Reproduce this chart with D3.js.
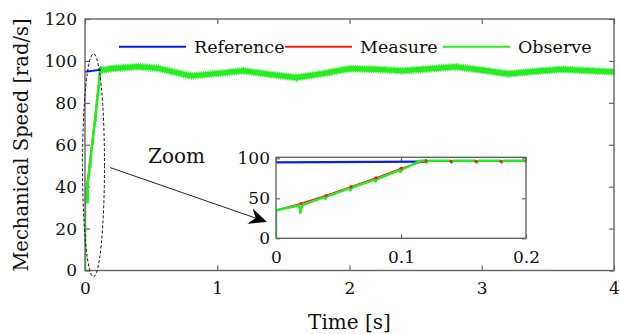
<!DOCTYPE html>
<html>
<head>
<meta charset="utf-8">
<script src="https://cdn.jsdelivr.net/npm/d3@7"></script>
<style>
  html, body { margin: 0; padding: 0; background: #fff; }
  svg { display: block; }
  text { font-family: "DejaVu Serif", serif; fill: #111; }
</style>
</head>
<body>
<svg id="chart" width="620" height="334"></svg>
<script>
// Reference speed (only the visible part before the observer covers it)
const refT = [0, 0.12];
const refV = [94.8, 95.8];

// Measured speed samples (every 0.02 s)
const measureT = [0, 0.02, 0.04, 0.06, 0.08, 0.10, 0.12, 0.14, 0.16, 0.18, 0.20];
const measureV = [35, 43.5, 53.5, 64.5, 75.5, 87.5, 97, 96.2, 96.2, 96.2, 96.2];

// Observed speed, start-up ramp with the small notches at each sample
const rampT = [0, 0, 0.0185, 0.0195, 0.021, 0.0385, 0.0395, 0.041, 0.0585, 0.0595, 0.061,
               0.0785, 0.0795, 0.081, 0.0985, 0.0995, 0.101, 0.116, 0.1195, 0.1205, 0.122,
               0.1395, 0.1405, 0.142, 0.1595, 0.1605, 0.162, 0.1795, 0.1805, 0.182, 0.2];
const rampV = [0, 35, 41, 32, 41.5, 51.5, 49, 52.5, 62.5, 60, 63.5,
               73, 71, 74, 85, 83, 86, 97, 97, 94.5, 97,
               97, 94.5, 97, 97, 94.5, 97, 97, 94.5, 97, 97];

// Observed speed, steady part (centre of the ripple band)
const steadyT = [0.116, 0.2, 0.4, 0.55, 0.8, 1.0, 1.2, 1.4, 1.6, 1.8, 2.0, 2.2, 2.4, 2.6,
                 2.8, 3.0, 3.2, 3.4, 3.6, 3.8, 4.0];
const steadyV = [95.5, 96.3, 97.3, 96.5, 92.8, 94.0, 95.3, 93.5, 92.0, 94.0, 96.3, 96.0, 95.3, 96.2,
                 97.2, 95.6, 93.8, 95.0, 96.0, 95.4, 94.8];

const mainXTicks = [0, 1, 2, 3, 4];
const mainYTicks = [0, 20, 40, 60, 80, 100, 120];
const insetXTicks = [0, 0.1, 0.2];
const insetYTicks = [0, 50, 100];

const legendNames = ['Reference', 'Measure', 'Observe'];
const colors = { ref: '#0a1cf0', meas: '#ff1a1a', obs: '#22ee22' };
const axisColor = '#666';

const svg = d3.select('#chart');

const x = d3.scaleLinear().domain([0, 4]).range([85, 614]);
const y = d3.scaleLinear().domain([0, 120]).range([270.5, 19]);
const ix = d3.scaleLinear().domain([0, 0.2]).range([276, 526]);
const iy = d3.scaleLinear().domain([0, 101.25]).range([238.3, 157.3]);

const zip = (a, b) => a.map((t, i) => [t, b[i]]);
const fmt = d3.format('~g');

function drawAxes(g, sx, sy, xt, yt, tick, padX, padY) {
    const [x0, x1] = sx.range();
    const [y0, y1] = sy.range();
    g.append('rect')
        .attr('x', x0).attr('y', y1)
        .attr('width', x1 - x0).attr('height', y0 - y1)
        .attr('fill', '#fff');

    const ax = [
        g.append('g').attr('transform', `translate(0,${y0})`)
            .call(d3.axisBottom(sx).tickValues(xt).tickFormat(fmt).tickSizeInner(-tick).tickSizeOuter(0).tickPadding(padX)),
        g.append('g').attr('transform', `translate(0,${y1})`)
            .call(d3.axisTop(sx).tickValues(xt).tickSizeInner(-tick).tickSizeOuter(0).tickFormat('')),
        g.append('g').attr('transform', `translate(${x0},0)`)
            .call(d3.axisLeft(sy).tickValues(yt).tickFormat(fmt).tickSizeInner(-tick).tickSizeOuter(0).tickPadding(padY)),
        g.append('g').attr('transform', `translate(${x1},0)`)
            .call(d3.axisRight(sy).tickValues(yt).tickSizeInner(-tick).tickSizeOuter(0).tickFormat(''))
    ];
    ax.forEach(a => {
        a.select('.domain').remove();
        a.selectAll('line').attr('stroke', axisColor).attr('stroke-width', 1.2);
        a.selectAll('text').attr('font-size', '17px').attr('font-family', '"DejaVu Serif", serif').attr('fill', '#111');
    });
}

function drawFrame(g, sx, sy) {
    const [x0, x1] = sx.range();
    const [y0, y1] = sy.range();
    g.append('rect')
        .attr('x', x0).attr('y', y1)
        .attr('width', x1 - x0).attr('height', y0 - y1)
        .attr('fill', 'none')
        .attr('stroke', axisColor)
        .attr('stroke-width', 1.4);
}

// ---------- main axes ----------
const main = svg.append('g');
drawAxes(main, x, y, mainXTicks, mainYTicks, 5, 11, 8);

main.append('clipPath').attr('id', 'clipMain')
    .append('rect').attr('x', 85).attr('y', 19).attr('width', 529).attr('height', 251.5);

const mainLines = main.append('g').attr('clip-path', 'url(#clipMain)');
const lineMain = d3.line().x(d => x(d[0])).y(d => y(d[1]));

mainLines.append('path')
    .attr('d', lineMain(zip(measureT, measureV)))
    .attr('fill', 'none').attr('stroke', colors.meas).attr('stroke-width', 1.5);

mainLines.append('path')
    .attr('d', lineMain(zip(rampT, rampV).filter(d => d[0] <= 0.116)))
    .attr('fill', 'none').attr('stroke', colors.obs).attr('stroke-width', 2.6);

// ripple band
mainLines.append('path')
    .attr('d', lineMain(zip(steadyT, steadyV)))
    .attr('fill', 'none').attr('stroke', colors.obs)
    .attr('stroke-width', 7.5).attr('stroke-dasharray', '0.8,1')
    .attr('stroke-linejoin', 'round');
mainLines.append('path')
    .attr('d', lineMain(zip(steadyT, steadyV)))
    .attr('fill', 'none').attr('stroke', colors.obs)
    .attr('stroke-width', 5.2).attr('stroke-linejoin', 'round');

mainLines.append('path')
    .attr('d', lineMain(zip(refT, refV)))
    .attr('fill', 'none').attr('stroke', colors.ref).attr('stroke-width', 2);

drawFrame(main, x, y);

// axis titles
main.append('text')
    .attr('x', 349.5).attr('y', 328.5)
    .attr('text-anchor', 'middle')
    .attr('font-size', '20px')
    .text('Time [s]');

main.append('text')
    .attr('transform', 'translate(28,145) rotate(-90)')
    .attr('text-anchor', 'middle')
    .attr('font-size', '19.5px')
    .text('Mechanical Speed [rad/s]');

// ---------- legend ----------
const legendColors = [colors.ref, colors.meas, colors.obs];
const legendLineX = [119, 285, 443];
const legend = main.append('g');
legendNames.forEach((name, i) => {
    legend.append('line')
        .attr('x1', legendLineX[i]).attr('x2', legendLineX[i] + 67)
        .attr('y1', 46.7).attr('y2', 46.7)
        .attr('stroke', legendColors[i]).attr('stroke-width', 2);
    legend.append('text')
        .attr('x', legendLineX[i] + 75).attr('y', 53)
        .attr('font-size', '17.5px')
        .text(name);
});

// ---------- ellipse + arrow ----------
svg.append('ellipse')
    .attr('cx', 93.5).attr('cy', 165.3)
    .attr('rx', 11).attr('ry', 111.5)
    .attr('fill', 'none').attr('stroke', '#111')
    .attr('stroke-width', 1).attr('stroke-dasharray', '3,2');

const a0 = [110, 167.5], tip = [267, 222];
const dx = tip[0] - a0[0], dy = tip[1] - a0[1];
const len = Math.hypot(dx, dy);
const u = [dx / len, dy / len], n = [-u[1], u[0]];
const hl = 18, hw = 8, notch = 12;
svg.append('line')
    .attr('x1', a0[0]).attr('y1', a0[1])
    .attr('x2', tip[0] - notch * u[0]).attr('y2', tip[1] - notch * u[1])
    .attr('stroke', '#222').attr('stroke-width', 1);
svg.append('path')
    .attr('d', d3.line()([
        tip,
        [tip[0] - hl * u[0] + hw * n[0], tip[1] - hl * u[1] + hw * n[1]],
        [tip[0] - notch * u[0], tip[1] - notch * u[1]],
        [tip[0] - hl * u[0] - hw * n[0], tip[1] - hl * u[1] - hw * n[1]]
    ]) + 'Z')
    .attr('fill', '#000');

svg.append('text')
    .attr('x', 148).attr('y', 163)
    .attr('font-size', '20px')
    .text('Zoom');

// ---------- inset ----------
const inset = svg.append('g');
drawAxes(inset, ix, iy, insetXTicks, insetYTicks, 4, 12.5, 6);

inset.append('clipPath').attr('id', 'clipInset')
    .append('rect').attr('x', 276).attr('y', 157.3).attr('width', 250).attr('height', 81);

const insetLines = inset.append('g').attr('clip-path', 'url(#clipInset)');
const lineInset = d3.line().x(d => ix(d[0])).y(d => iy(d[1]));

insetLines.append('path')
    .attr('d', lineInset(zip(refT, refV)))
    .attr('fill', 'none').attr('stroke', colors.ref).attr('stroke-width', 2.2);

insetLines.append('path')
    .attr('d', lineInset(zip(measureT, measureV)))
    .attr('fill', 'none').attr('stroke', colors.meas).attr('stroke-width', 1.4);

insetLines.append('path')
    .attr('d', lineInset(zip(rampT, rampV)))
    .attr('fill', 'none').attr('stroke', colors.obs).attr('stroke-width', 2.4)
    .attr('stroke-linejoin', 'round');

insetLines.selectAll('circle.m')
    .data(zip(measureT, measureV).slice(1))
    .enter().append('circle')
    .attr('class', 'm')
    .attr('cx', d => ix(d[0])).attr('cy', d => iy(d[1]))
    .attr('r', 1.6)
    .attr('fill', colors.meas);

drawFrame(inset, ix, iy);
</script>
</body>
</html>
